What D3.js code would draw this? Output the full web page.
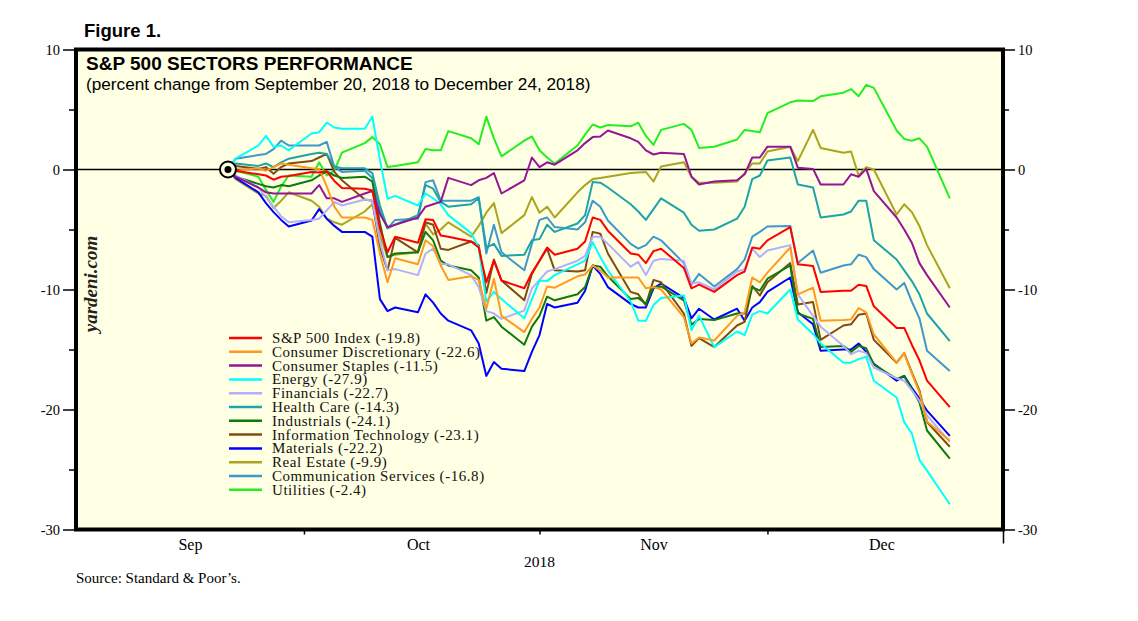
<!DOCTYPE html>
<html>
<head>
<meta charset="utf-8">
<script src="https://cdn.jsdelivr.net/npm/d3@7"></script>
<style>
  body { margin: 0; background: #fff; }
  svg { display: block; }
</style>
</head>
<body>
<div id="app"></div>
<script>
// trading days, Sep 20 to Dec 24, 2018
const tradingDays = [
  '2018-09-20', '2018-09-21', '2018-09-24', '2018-09-25', '2018-09-26', '2018-09-27', '2018-09-28',
  '2018-10-01', '2018-10-02', '2018-10-03', '2018-10-04', '2018-10-05',
  '2018-10-08', '2018-10-09', '2018-10-10', '2018-10-11', '2018-10-12',
  '2018-10-15', '2018-10-16', '2018-10-17', '2018-10-18', '2018-10-19',
  '2018-10-22', '2018-10-23', '2018-10-24', '2018-10-25', '2018-10-26',
  '2018-10-29', '2018-10-30', '2018-10-31', '2018-11-01', '2018-11-02',
  '2018-11-05', '2018-11-06', '2018-11-07', '2018-11-08', '2018-11-09',
  '2018-11-12', '2018-11-13', '2018-11-14', '2018-11-15', '2018-11-16',
  '2018-11-19', '2018-11-20', '2018-11-21', '2018-11-23',
  '2018-11-26', '2018-11-27', '2018-11-28', '2018-11-29', '2018-11-30',
  '2018-12-03', '2018-12-04', '2018-12-06', '2018-12-07',
  '2018-12-10', '2018-12-11', '2018-12-12', '2018-12-13', '2018-12-14',
  '2018-12-17', '2018-12-18', '2018-12-19', '2018-12-20', '2018-12-21', '2018-12-24'
];

const sp500 = [
  0, -0.1, -0.4, -0.5, -0.85, -0.6, -0.55,
  -0.2, -0.25, -0.15, -0.95, -1.55,
  -1.6, -1.75, -4.9, -6.9, -5.6,
  -6.1, -4.15, -4.2, -5.5, -5.6,
  -6.0, -6.5, -9.4, -7.6, -9.25,
  -9.9, -8.6, -7.6, -6.5, -7.1,
  -6.6, -6.0, -4.0, -4.2, -5.1,
  -7.0, -7.1, -7.8, -6.8, -6.6,
  -8.2, -9.9, -9.6, -10.2,
  -8.8, -8.5, -6.5, -6.6, -5.9,
  -4.8, -7.9, -8.05, -10.2,
  -10.1, -10.1, -9.6, -9.7, -11.4,
  -13.2, -13.2, -14.6, -15.9, -17.6, -19.8
];
const consDiscretionary = [
  0, -0.1, 0.1, -0.1, 0.2, 0.5, 0.4,
  0.1, 0.05, -1.4, -3.1, -4.0,
  -4.0, -4.2, -7.0, -9.4, -7.4,
  -7.9, -5.9, -6.4, -8.0, -9.2,
  -8.9, -9.2, -11.6, -9.1, -12.2,
  -13.55, -12.45, -11.5, -9.75, -9.85,
  -8.9, -8.75, -8.0, -8.4, -9.0,
  -9.0, -9.0, -9.9, -9.8, -10.0,
  -12.3, -14.5, -14.0, -14.25,
  -12.2, -11.9, -9.0, -9.4, -8.6,
  -6.5, -10.4, -9.85, -12.6,
  -12.55, -12.5, -11.55, -11.9, -13.75,
  -16.1, -15.3, -17.0, -18.55, -21.0, -22.6
];
const consStaples = [
  0, -0.6, -1.5, -1.9, -2.0, -2.0, -2.0,
  -2.0, -1.3, -2.4, -2.4, -2.7,
  -2.0, -1.8, -3.7, -4.8, -4.6,
  -4.0, -3.1, -2.9, -2.7, -0.7,
  -1.3, -0.9, -0.7, -0.3, -2.0,
  -0.9, 1.0, 0.2, 0.6, 0.4,
  1.6, 2.2, 2.7, 2.75, 3.25,
  2.6, 2.3, 1.6, 1.25, 1.4,
  1.3, -0.6, -1.25, -1.0,
  -0.9, -0.4, 1.0, 1.0, 1.9,
  1.9, 0.15, 0.05, -1.25,
  -1.25, -0.4, -0.6, 0.05, -1.8,
  -4.0, -5.0, -6.1, -7.8, -8.8, -11.5
];
const energy = [
  0, 0.9, 2.0, 2.8, 1.9, 2.0, 1.6,
  3.0, 3.1, 3.9, 3.5, 3.4,
  3.4, 4.4, 0.8, -2.45, -2.2,
  -3.0, -2.0, -2.4, -2.9, -3.8,
  -5.3, -6.5, -11.0, -10.2, -10.8,
  -12.4, -10.8, -9.25, -9.3, -8.8,
  -7.9, -7.6, -6.05, -7.3, -8.4,
  -11.0, -12.6, -12.6, -11.3, -10.7,
  -10.5, -13.4, -12.2, -14.8,
  -13.5, -13.8, -12.1, -11.8, -12.0,
  -10.0, -12.5, -13.7, -14.5,
  -16.1, -16.1, -15.8, -15.6, -17.6,
  -19.0, -21.05, -22.0, -24.2, -25.1, -27.9
];
const financials = [
  0, -0.5, -1.5, -2.3, -3.1, -3.9, -4.4,
  -4.2, -4.1, -3.4, -2.7, -3.0,
  -2.5, -2.6, -6.0, -8.4, -8.3,
  -8.8, -7.0, -6.6, -7.9, -7.9,
  -8.8, -9.8, -11.8, -12.0, -12.45,
  -11.75, -9.9, -9.2, -8.5, -8.3,
  -7.6, -7.2, -5.6, -5.6, -6.2,
  -8.1, -7.7, -8.8, -7.6, -7.45,
  -7.6, -9.5, -9.4, -10.0,
  -8.5, -8.3, -6.6, -7.3, -6.75,
  -6.3, -10.4, -12.2, -13.1,
  -14.7, -15.4, -15.1, -15.3, -16.5,
  -17.4, -17.6, -18.4, -19.25, -20.5, -22.7
];
const healthCare = [
  0, 0.5, 0.3, 0.5, 0.2, 0.6, 0.9,
  1.3, 1.4, 1.3, 0.25, 0.1,
  0.1, -0.3, -3.0, -4.9, -4.6,
  -3.8, -1.3, -1.6, -2.7, -3.1,
  -2.9, -2.4, -6.5, -6.2, -7.2,
  -7.1, -5.9, -5.8, -4.6, -5.2,
  -4.5, -3.8, -1.05, -1.1, -1.5,
  -2.9, -3.5, -4.2, -3.3, -2.4,
  -3.6, -4.6, -5.1, -5.0,
  -4.1, -3.1, -0.8, -0.5, 0.75,
  1.0, -1.25, -1.5, -4.0,
  -3.75, -3.5, -2.6, -2.6, -5.9,
  -7.5, -8.4, -9.3, -10.4, -12.0, -14.3
];
const industrials = [
  0, -0.6, -1.2, -1.4, -1.5, -1.3, -1.4,
  -0.9, -0.5, -0.15, -0.5, -0.7,
  -0.6, -1.0, -4.5, -7.3, -7.0,
  -6.9, -5.2, -5.9, -7.6, -8.0,
  -8.4, -9.0, -12.6, -12.3, -13.1,
  -14.6, -13.1, -12.2, -10.6, -10.9,
  -10.4, -9.8, -8.0, -8.1, -8.9,
  -10.8, -10.7, -11.2, -9.8, -9.75,
  -10.9, -12.95, -12.45, -12.55,
  -12.0, -12.0, -9.8, -10.1, -9.1,
  -8.0, -12.0, -12.45, -14.8,
  -14.7, -15.2, -14.7, -14.9, -16.25,
  -17.45, -17.2, -18.3, -19.4, -21.75, -24.1
];
const infoTech = [
  0, 0.3, 0.05, 0.2, -0.35, 0.2, 0.5,
  0.7, 1.0, 1.3, -0.2, -0.9,
  -2.5, -2.6, -6.5, -8.4, -5.7,
  -6.9, -4.4, -4.6, -6.6, -6.7,
  -6.0, -6.3, -10.3, -7.5, -9.25,
  -10.9, -8.7, -7.6, -6.6, -8.4,
  -8.5, -8.4, -5.2, -5.35, -7.0,
  -10.2, -10.4, -11.3, -9.2, -9.4,
  -12.0, -14.7, -14.05, -14.8,
  -13.0, -12.7, -9.7, -10.5, -9.4,
  -7.8, -11.25, -11.05, -14.2,
  -13.0, -12.9, -12.1, -12.0, -14.2,
  -16.1, -15.3, -16.9, -18.4, -21.05, -23.1
];
const materials = [
  0, -0.7, -1.9, -2.8, -3.55, -4.2, -4.75,
  -4.25, -3.3, -4.1, -4.7, -5.2,
  -5.2, -5.6, -10.8, -11.8, -11.5,
  -11.9, -10.4, -11.1, -12.0, -12.6,
  -13.4, -14.5, -17.2, -16.05, -16.6,
  -16.8, -15.2, -13.8, -11.2, -11.5,
  -11.1, -10.1, -8.0, -8.7, -9.8,
  -11.2, -11.5, -11.5, -9.9, -9.5,
  -10.7, -12.4, -11.6, -12.5,
  -11.6, -12.6, -11.5, -11.05, -10.2,
  -9.0, -11.9, -12.9, -15.1,
  -15.0, -15.0, -14.5, -15.2, -16.2,
  -17.6, -17.2, -18.2, -19.1, -20.1, -22.2
];
const realEstate = [
  0, -0.8, -2.0, -2.2, -3.2, -2.6, -1.9,
  -2.6, -3.1, -4.1, -4.4, -4.6,
  -3.5, -2.9, -5.5, -7.3, -7.1,
  -6.9, -4.5, -5.4, -5.0, -4.4,
  -5.6, -4.7, -3.6, -2.8, -5.3,
  -3.8, -2.3, -3.6, -3.1, -4.0,
  -1.9, -1.3, -0.8, -0.7, -0.6,
  -0.3, -0.25, -0.2, -1.0, 0.25,
  0.6, -0.6, -1.1, -1.1,
  -1.0, -0.3, 0.5, 0.5, 1.5,
  1.9, 0.7, 3.3, 1.8,
  1.4, 1.5, -0.5, 0.2, 0.0,
  -3.75, -2.9, -3.55, -4.7, -6.3, -9.9
];
const commServices = [
  0, 0.9, 1.2, 1.3, 1.7, 2.4, 2.0,
  2.0, 2.0, 2.3, 0.2, -0.2,
  -0.1, -0.7, -3.5, -4.9, -4.2,
  -4.1, -1.05, -0.9, -2.6, -2.6,
  -2.6, -2.3, -7.0, -4.6, -6.9,
  -8.4, -6.2, -4.2, -4.0, -4.8,
  -5.0, -4.4, -2.6, -3.1, -4.25,
  -6.2, -6.6, -6.3, -5.6, -5.9,
  -7.8, -9.6, -8.7, -9.75,
  -8.3, -7.5, -5.6, -5.2, -4.75,
  -4.7, -7.8, -6.75, -8.6,
  -8.0, -7.9, -7.1, -7.3, -8.3,
  -10.0, -9.45, -11.0, -12.4, -15.1, -16.8
];
const utilities = [
  0, -0.1, -0.6, -1.7, -2.7, -1.4, -0.5,
  -0.6, 0.6, -0.5, -0.1, 1.4,
  2.2, 2.7, 2.1, 0.2, 0.3,
  0.6, 1.7, 1.6, 1.6, 3.2,
  2.6, 2.1, 4.4, 2.6, 1.1,
  2.4, 2.75, 1.6, 1.0, 0.5,
  2.0, 2.9, 3.75, 3.5, 3.7,
  3.6, 3.9, 2.8, 2.05, 3.3,
  3.8, 3.3, 1.8, 1.9,
  2.5, 3.3, 3.2, 3.1, 4.7,
  5.6, 5.75, 5.7, 6.1,
  6.4, 6.7, 6.1, 7.05, 6.8,
  3.25, 2.55, 2.4, 2.6, 1.9, -2.4
];

const sectorNames = [
  'S&P 500 Index', 'Consumer Discretionary', 'Consumer Staples', 'Energy',
  'Financials', 'Health Care', 'Industrials', 'Information Technology',
  'Materials', 'Real Estate', 'Communication Services', 'Utilities'
];
const yMajorTicks = [10, 0, -10, -20, -30];
const yMinorTicks = [5, -5, -15, -25];
const monthLabels = ['Sep', 'Oct', 'Nov', 'Dec'];

(() => {
  const width = 1138;
  const height = 621;
  const left = 76;
  const right = 1003;
  const top = 49.5;
  const bottom = 529.5;
  const serif = '"Liberation Serif", "Times New Roman", serif';
  const sans = '"Liberation Sans", Arial, sans-serif';
  const colors = ['#ff0000', '#ff9a1e', '#961496', '#00ffff', '#b0b0ff', '#1ca4aa',
    '#0e7a0e', '#7f4c14', '#0000ff', '#aaa420', '#3e98cc', '#22ee22'];
  const series = [sp500, consDiscretionary, consStaples, energy, financials, healthCare,
    industrials, infoTech, materials, realEstate, commServices, utilities];

  const days = tradingDays.map(d3.timeParse('%Y-%m-%d'));

  const x = d3.scaleTime()
    .domain([new Date(2018, 8, 1), new Date(2019, 0, 1)])
    .range([left, right]);
  const y = d3.scaleLinear()
    .domain([-30, 10])
    .range([bottom, top]);
  // each close is plotted at the end of its day
  const xDay = d => x(d3.timeDay.offset(d, 1));

  const svg = d3.select('#app')
    .append('svg')
    .attr('width', width)
    .attr('height', height);

  svg.append('text')
    .text('Figure 1.')
    .attr('x', 84)
    .attr('y', 37)
    .attr('font-family', sans)
    .attr('font-weight', 'bold')
    .attr('font-size', 18.5);

  // plot area
  svg.append('rect')
    .attr('x', left)
    .attr('y', top)
    .attr('width', right - left)
    .attr('height', bottom - top)
    .style('fill', '#ffffe4');

  svg.append('text')
    .text('S&P 500 SECTORS PERFORMANCE')
    .attr('x', 86)
    .attr('y', 70)
    .attr('font-family', sans)
    .attr('font-weight', 'bold')
    .attr('font-size', 19);

  svg.append('text')
    .text('(percent change from September 20, 2018 to December 24, 2018)')
    .attr('x', 86)
    .attr('y', 90)
    .attr('font-family', sans)
    .attr('font-size', 17.2);

  svg.append('text')
    .text('yardeni.com')
    .attr('transform', 'translate(97,284) rotate(-90)')
    .attr('font-family', serif)
    .attr('font-weight', 'bold')
    .attr('font-style', 'italic')
    .attr('font-size', 19)
    .style('text-anchor', 'middle')
    .style('fill', '#222');

  // zero line
  svg.append('line')
    .attr('x1', left)
    .attr('x2', right)
    .attr('y1', y(0))
    .attr('y2', y(0))
    .style('stroke', '#000')
    .style('stroke-width', 1.5);

  // sector lines, S&P 500 drawn last
  const line = d3.line()
    .x((d, i) => xDay(days[i]))
    .y(d => y(d));

  svg.append('g')
    .selectAll('path')
    .data(series.map((values, i) => ({ values, color: colors[i] })).reverse())
    .enter()
    .append('path')
    .attr('d', d => line(d.values))
    .style('fill', 'none')
    .style('stroke', d => d.color)
    .style('stroke-width', 2)
    .style('stroke-linejoin', 'round');

  // start marker
  svg.append('circle')
    .attr('cx', xDay(days[0]))
    .attr('cy', y(0))
    .attr('r', 8)
    .style('fill', '#ffffe4')
    .style('stroke', '#000')
    .style('stroke-width', 2);
  svg.append('circle')
    .attr('cx', xDay(days[0]))
    .attr('cy', y(0))
    .attr('r', 3.5)
    .style('fill', '#000');

  // frame
  svg.append('rect')
    .attr('x', left)
    .attr('y', top)
    .attr('width', right - left)
    .attr('height', bottom - top)
    .style('fill', 'none')
    .style('stroke', '#000')
    .style('stroke-width', 4);

  const styleAxis = (g) => {
    g.select('.domain').remove();
    g.selectAll('line').style('stroke', '#000').style('stroke-width', 1.5);
    g.selectAll('text')
      .attr('font-family', serif)
      .attr('font-size', 14.5)
      .style('fill', '#000');
  };

  // y axes, major and minor ticks
  svg.append('g')
    .attr('transform', `translate(${left},0)`)
    .call(d3.axisLeft(y).tickValues(yMajorTicks).tickSize(13).tickPadding(3).tickFormat(d => `${d}`))
    .call(styleAxis);
  svg.append('g')
    .attr('transform', `translate(${left},0)`)
    .call(d3.axisLeft(y).tickValues(yMinorTicks).tickSize(7).tickFormat(''))
    .call(styleAxis);
  svg.append('g')
    .attr('transform', `translate(${right},0)`)
    .call(d3.axisRight(y).tickValues(yMajorTicks).tickSize(12).tickPadding(3).tickFormat(d => `${d}`))
    .call(styleAxis);
  svg.append('g')
    .attr('transform', `translate(${right},0)`)
    .call(d3.axisRight(y).tickValues(yMinorTicks).tickSize(6).tickFormat(''))
    .call(styleAxis);

  // x axis: month boundaries as ticks, month names centred in each month
  svg.append('g')
    .attr('transform', `translate(0,${bottom})`)
    .call(d3.axisBottom(x).tickValues(d3.timeMonth.range(new Date(2018, 9, 1), new Date(2019, 0, 1)))
      .tickSize(5).tickFormat(''))
    .call(styleAxis);
  svg.append('g')
    .attr('transform', `translate(0,${bottom})`)
    .call(d3.axisBottom(x).tickValues([new Date(2019, 0, 1)]).tickSize(14).tickFormat(''))
    .call(styleAxis);
  svg.append('g')
    .attr('transform', `translate(0,${bottom})`)
    .call(d3.axisBottom(x).tickValues(monthLabels.map((m, i) => new Date(2018, 8 + i, 16)))
      .tickSize(0).tickPadding(9).tickFormat((d, i) => monthLabels[i]))
    .call(styleAxis)
    .selectAll('text')
    .attr('font-size', 16);

  svg.append('text')
    .text('2018')
    .attr('x', (left + right) / 2)
    .attr('y', 567)
    .attr('font-family', serif)
    .attr('font-size', 15.5)
    .style('text-anchor', 'middle');

  svg.append('text')
    .text('Source: Standard & Poor\u2019s.')
    .attr('x', 76)
    .attr('y', 583)
    .attr('font-family', serif)
    .attr('font-size', 15);

  // legend; rows are tight, so the text is spaced out rather than enlarged
  const legend = svg.append('g')
    .selectAll('g')
    .data(sectorNames)
    .enter()
    .append('g')
    .attr('transform', (d, i) => `translate(0,${338 + (i * 13.8)})`);

  legend.append('line')
    .attr('x1', 229)
    .attr('x2', 262)
    .style('stroke', (d, i) => colors[i])
    .style('stroke-width', 2.5);

  legend.append('text')
    .text((d, i) => `${d} (${series[i][series[i].length - 1].toFixed(1)})`)
    .attr('x', 272)
    .attr('y', 5)
    .attr('font-family', serif)
    .attr('font-size', 15)
    .style('letter-spacing', '0.55px')
    .style('fill', '#111');
})();
</script>
</body>
</html>
